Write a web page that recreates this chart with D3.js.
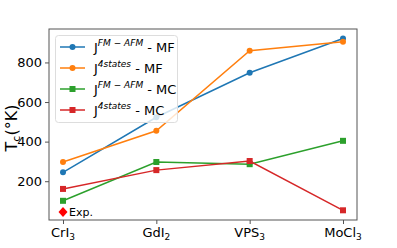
<!DOCTYPE html>
<html>
<head>
<meta charset="utf-8">
<script src="https://cdn.jsdelivr.net/npm/d3@7"></script>
<style>
  body { margin: 0; background: #fff; }
  text { font-family: "DejaVu Sans", sans-serif; }
</style>
</head>
<body>
<div id="chart"></div>
<script>
const materials = ["CrI3", "GdI2", "VPS3", "MoCl3"]
const tcFmAfmMF = [245, 523, 748, 921]
const tc4statesMF = [297, 455, 859, 904]
const tcFmAfmMC = [101, 297, 286, 404]
const tc4statesMC = [161, 256, 302, 53]
const tcExp = [45]

const series = [
  {sup: "FM \u2212 AFM", tail: " - MF", values: tcFmAfmMF, color: "#1f77b4", marker: "circle"},
  {sup: "4states", tail: " - MF", values: tc4statesMF, color: "#ff7f0e", marker: "circle"},
  {sup: "FM \u2212 AFM", tail: " - MC", values: tcFmAfmMC, color: "#2ca02c", marker: "square"},
  {sup: "4states", tail: " - MC", values: tc4statesMC, color: "#d62728", marker: "square"}
]

const W = 397, H = 248
const margin = {top: 29, left: 49, right: 40, bottom: 28}

const svg = d3.select("#chart").append("svg")
  .attr("width", W)
  .attr("height", H)

const x = d3.scaleLinear()
  .domain([-0.15, materials.length - 1 + 0.15])
  .range([margin.left, W - margin.right])
const y = d3.scaleLinear()
  .domain([4, 969])
  .range([H - margin.bottom, margin.top])

// axes
const yAxis = svg.append("g")
  .attr("transform", `translate(${margin.left},0)`)
  .call(d3.axisLeft(y).tickValues([200, 400, 600, 800]).tickSize(4).tickPadding(3))
yAxis.selectAll("text").attr("font-size", 13).attr("fill", "#000")
  .attr("font-family", "DejaVu Sans")

const xAxis = svg.append("g")
  .attr("transform", `translate(0,${H - margin.bottom})`)
  .call(d3.axisBottom(x).tickValues(d3.range(materials.length)).tickSize(4).tickPadding(3).tickFormat(() => ""))
xAxis.selectAll("path").remove()
xAxis.selectAll(".tick line").attr("stroke", "#555")
yAxis.selectAll("path").remove()
yAxis.selectAll(".tick line").attr("stroke", "#555")

// x labels with subscripts
materials.forEach((m, i) => {
  let base = m.slice(0, -1), sub = m.slice(-1)
  let t = svg.append("text")
    .attr("x", x(i))
    .attr("y", 237)
    .attr("text-anchor", "middle")
    .attr("font-size", 13)
  t.append("tspan").text(base)
  t.append("tspan").attr("font-size", 9).attr("dy", 3).text(sub)
})

// frame
svg.append("rect")
  .attr("x", margin.left)
  .attr("y", margin.top)
  .attr("width", W - margin.right - margin.left)
  .attr("height", H - margin.bottom - margin.top)
  .attr("fill", "none")
  .attr("stroke", "#555")
  .attr("stroke-width", 1)

// y label
let yl = svg.append("text")
  .attr("transform", `translate(17,128) rotate(-90)`)
  .attr("text-anchor", "middle")
  .attr("font-size", 16)
yl.append("tspan").text("T")
yl.append("tspan").attr("font-size", 11).attr("dy", 3).text("c")
yl.append("tspan").attr("dy", -3).text("(\u00b0K)")

const line = d3.line().x((d, i) => x(i)).y(d => y(d))

function drawMarker(g, type, cx, cy, color){
  if(type == "circle"){
    g.append("circle").attr("cx", cx).attr("cy", cy).attr("r", 3).attr("fill", color)
  }else{
    g.append("rect").attr("x", cx - 3).attr("y", cy - 3).attr("width", 6).attr("height", 6).attr("fill", color)
  }
}

series.forEach(s => {
  let g = svg.append("g")
  g.append("path")
    .attr("d", line(s.values))
    .attr("fill", "none")
    .attr("stroke", s.color)
    .attr("stroke-width", 1.5)
  s.values.forEach((v, i) => drawMarker(g, s.marker, x(i), y(v), s.color))
})

// experimental point
const ex = x(0), ey = y(tcExp[0])
svg.append("path")
  .attr("d", `M${ex},${ey - 5} L${ex + 4.5},${ey} L${ex},${ey + 5} L${ex - 4.5},${ey} Z`)
  .attr("fill", "red")
svg.append("text")
  .attr("x", ex + 6)
  .attr("y", ey + 4)
  .attr("font-size", 11)
  .text("Exp.")

// legend
const lg = svg.append("g")
lg.append("rect")
  .attr("x", 55.5).attr("y", 35.5)
  .attr("width", 122).attr("height", 87)
  .attr("rx", 3)
  .attr("fill", "#fff").attr("fill-opacity", 0.8)
  .attr("stroke", "#ddd")
series.forEach((s, i) => {
  let ly = 47 + i * 21
  lg.append("line")
    .attr("x1", 60).attr("x2", 85)
    .attr("y1", ly).attr("y2", ly)
    .attr("stroke", s.color).attr("stroke-width", 1.5)
  drawMarker(lg, s.marker, 72.5, ly, s.color)
  let t = lg.append("text")
    .attr("x", 94)
    .attr("y", ly + 5)
    .attr("font-size", 13)
  t.append("tspan").text("J")
  t.append("tspan").attr("font-size", 9).attr("font-style", "italic").attr("dy", -6).text(s.sup)
  t.append("tspan").attr("dy", 6).text(s.tail)
})
</script>
</body>
</html>
